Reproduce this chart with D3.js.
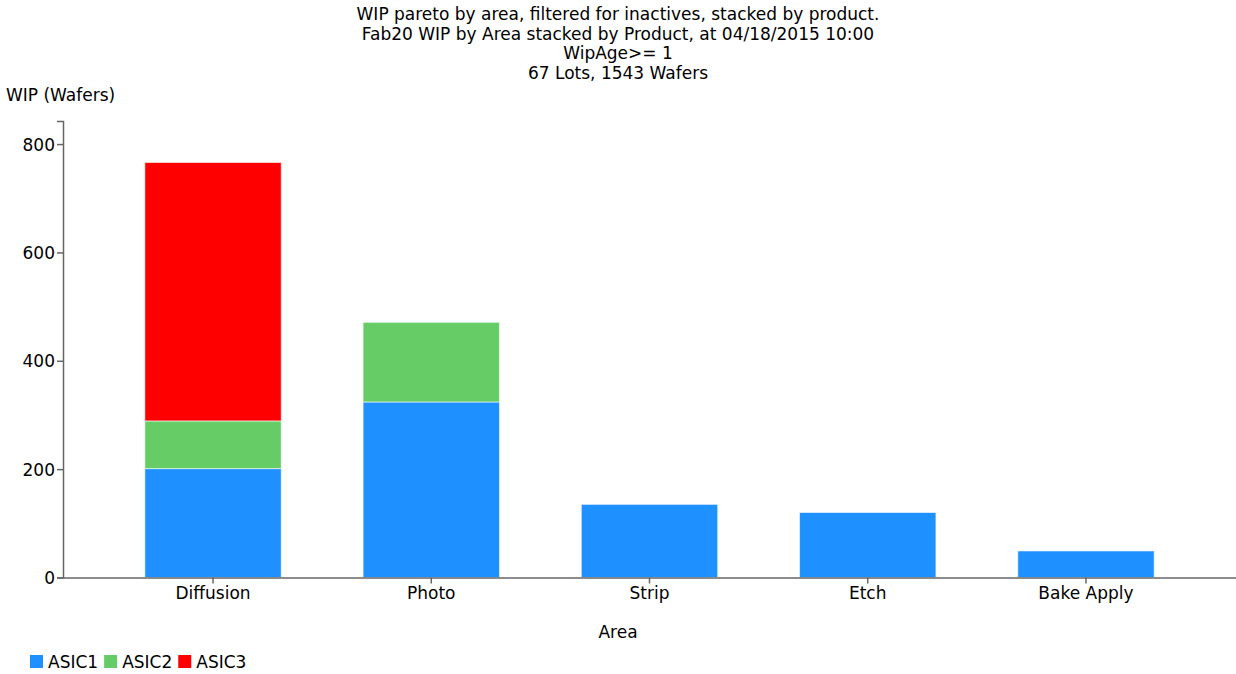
<!DOCTYPE html>
<html><head><meta charset="utf-8">
<script src="https://cdn.jsdelivr.net/npm/d3@7"></script>
<style>
body{margin:0;background:#fff;}
text{font-family:"DejaVu Sans",sans-serif;fill:#000;}
</style></head>
<body><svg id="c" width="1236" height="674"></svg>
<script>
const titleLines = ["WIP pareto by area, filtered for inactives, stacked by product.",
  "Fab20 WIP by Area stacked by Product, at 04/18/2015 10:00",
  "WipAge>= 1",
  "67 Lots, 1543 Wafers"];
const areas = ["Diffusion","Photo","Strip","Etch","Bake Apply"];
const products = ["ASIC1","ASIC2","ASIC3"];
const asic1 = [201, 324, 135, 120, 49];
const asic2 = [88, 147, 0, 0, 0];
const asic3 = [477, 0, 0, 0, 0];
const colors = ["#1e90ff","#66cc66","#ff0000"];
const yTicks = [0,200,400,600,800];

const FS = "17px";
const svg = d3.select("#c");
const left = 63, right = 1236, bottom = 577.5;
const rows = areas.map((a,i)=>({area:a, ASIC1:asic1[i], ASIC2:asic2[i], ASIC3:asic3[i]}));
const totals = rows.map(r=>r.ASIC1+r.ASIC2+r.ASIC3);
const ymax = d3.max(totals)*1.1;
const y = d3.scaleLinear().domain([0,ymax]).range([bottom,121]);
const x = d3.scaleBand().domain(areas).range([left,right]).padding(0.375);
const stack = d3.stack().keys(products)(rows);
const color = d3.scaleOrdinal().domain(products).range(colors);

svg.append("g").selectAll("g").data(stack).join("g")
  .attr("fill", d=>color(d.key))
  .selectAll("rect").data(d=>d.filter(s=>s[1]>s[0])).join("rect")
  .attr("x", d=>x(d.data.area)).attr("width", x.bandwidth())
  .attr("y", d=>y(d[1])).attr("height", d=>y(d[0])-y(d[1]))
  .attr("stroke","rgba(255,255,255,0.6)").attr("stroke-width",1);

const yAxis = svg.append("g").attr("transform",`translate(${left},0)`)
  .call(d3.axisLeft(y).tickValues(yTicks).tickSize(6).tickSizeOuter(6));
const xAxis = svg.append("g").attr("transform",`translate(0,${bottom})`)
  .call(d3.axisBottom(x).tickSize(6).tickSizeOuter(0));
[yAxis,xAxis].forEach(g=>{
  g.selectAll("path,line").attr("stroke","#666").attr("stroke-width",1.5);
  g.selectAll("text").style("font-family",'"DejaVu Sans",sans-serif').style("font-size",FS).attr("fill","#000");
});
yAxis.selectAll("text").attr("x",-8).attr("dy","0.35em");
xAxis.selectAll("text").attr("y",9).attr("dy","0.71em");

const t = svg.append("text").attr("text-anchor","middle").style("font-size",FS);
titleLines.forEach((l,i)=>t.append("tspan").attr("x",618).attr("y",20+i*19.5).text(l));

svg.append("text").attr("x",6).attr("y",101).style("font-size",FS).text("WIP (Wafers)");
svg.append("text").attr("x",618).attr("y",638).attr("text-anchor","middle").style("font-size",FS).text("Area");

const lg = svg.append("g").attr("transform","translate(30,655)");
let lx = 0;
products.forEach((p,i)=>{
  const g = lg.append("g").attr("transform",`translate(${lx},0)`);
  g.append("rect").attr("width",13).attr("height",13).attr("fill",colors[i]);
  const tx = g.append("text").attr("x",18).attr("y",12.5).style("font-size",FS).text(p);
  lx += 18 + tx.node().getComputedTextLength() + 6;
});
</script></body></html>
